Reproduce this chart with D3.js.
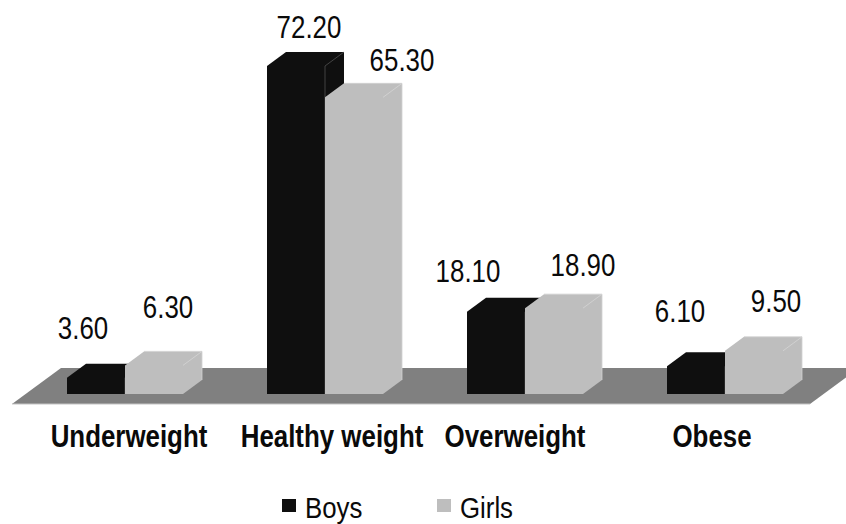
<!DOCTYPE html>
<html>
<head>
<meta charset="utf-8">
<script src="https://cdnjs.cloudflare.com/ajax/libs/d3/7.9.0/d3.min.js"></script>
<style>
html,body{margin:0;padding:0;background:#fff;overflow:hidden}
svg{display:block}
text{font-family:"Liberation Sans",Arial,sans-serif;fill:#0a0a0a}
</style>
</head>
<body>
<svg id="chart" width="846" height="524"></svg>
<script>
const categories = ["Underweight", "Healthy weight", "Overweight", "Obese"];
const seriesNames = ["Boys", "Girls"];
const boys = [3.6, 72.2, 18.1, 6.1];
const girls = [6.3, 65.3, 18.9, 9.5];
const valueLabels = {Boys: ["3.60", "72.20", "18.10", "6.10"], Girls: ["6.30", "65.30", "18.90", "9.50"]};
const seriesValues = {Boys: boys, Girls: girls};
const seriesColors = {Boys: "#0f0f0f", Girls: "#bebebe"};

// label placement tweaks seen in the reference (px)
const catLabelDx = [4, 7, -10, -13];
const valueLabelDx = {Boys: [-13, 13, -28, -16], Girls: [14, 48, 29, 22]};
const valueLabelDy = {Boys: [-39, -28, -30, -44], Girls: [-47, -26, -32, -39]};

const baseY = 394, depthX = 19, depthY = 14;
const squeeze = 0.835, fontSize = 31;
const legendFontSize = 29, legendSqueeze = 0.89;

const svg = d3.select("#chart");
const x0 = d3.scaleBand().domain(categories).range([67, 783]).paddingInner(0.42);
const x1 = d3.scaleBand().domain(seriesNames).range([0, x0.bandwidth()]);
const y = d3.scaleLinear().domain([0, 72.2]).range([baseY, 66]);

// floor
const floorPts = [[12, 404], [810, 404], [859, 368], [61, 368]];
svg.append("polygon").attr("points", floorPts.join(" ")).attr("fill", "#808080");
svg.append("line").attr("x1", 12).attr("x2", 810).attr("y1", 404).attr("y2", 404)
  .attr("stroke", "#c4c4c4").attr("stroke-width", 1);

// bars
categories.forEach((cat, i) => {
  seriesNames.forEach(s => {
    const v = seriesValues[s][i];
    const l = x0(cat) + x1(s), r = l + x1.bandwidth(), t = y(v), c = seriesColors[s];
    const g = svg.append("g");
    g.append("polygon").attr("fill", c)
      .attr("points", [[l, baseY], [l, t], [l + depthX, t - depthY], [r + depthX, t - depthY], [r + depthX, baseY - depthY], [r, baseY]].join(" "));
    const edge = s === "Boys" ? "#5a5a5a" : "#d8d8d8";
    g.append("line").attr("x1", r).attr("y1", t).attr("x2", r + depthX).attr("y2", t - depthY)
      .attr("stroke", edge).attr("stroke-width", 0.7);
    if (s === "Boys") {
      g.append("line").attr("x1", r).attr("y1", t).attr("x2", r).attr("y2", baseY)
        .attr("stroke", edge).attr("stroke-width", 0.7);
    } else {
      g.append("polyline").attr("fill", "none").attr("stroke", "#d0d0d0").attr("stroke-width", 0.8)
        .attr("points", [[l + depthX, t - depthY], [r + depthX, t - depthY], [r + depthX, baseY - depthY]].join(" "));
    }
  });
});

function squeezedText(x, yy, str, weight, anchor, size, sx) {
  return svg.append("text")
    .attr("transform", `translate(${x},${yy}) scale(${sx || squeeze},1)`)
    .attr("text-anchor", anchor || "middle")
    .attr("font-size", size || fontSize)
    .attr("font-weight", weight || "normal")
    .text(str);
}

// value labels
categories.forEach((cat, i) => {
  seriesNames.forEach(s => {
    const cx = x0(cat) + x1(s) + x1.bandwidth() / 2 + valueLabelDx[s][i];
    squeezedText(cx, y(seriesValues[s][i]) + valueLabelDy[s][i], valueLabels[s][i]);
  });
});

// category labels
categories.forEach((cat, i) => {
  squeezedText(x0(cat) + x0.bandwidth() / 2 + catLabelDx[i], 446.5, cat, "bold");
});

// legend
const legendX = d3.scalePoint().domain(seriesNames).range([282, 437]);
seriesNames.forEach(s => {
  svg.append("rect").attr("x", legendX(s)).attr("y", 499).attr("width", 14).attr("height", 13)
    .attr("fill", seriesColors[s]);
  squeezedText(legendX(s) + 23, 517.5, s, "normal", "start", legendFontSize, legendSqueeze);
});
</script>
</body>
</html>
